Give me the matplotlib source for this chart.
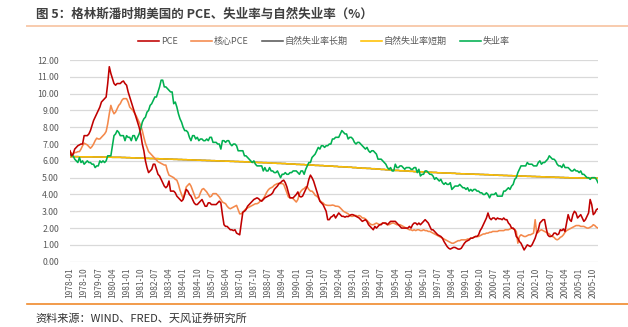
import matplotlib
matplotlib.use('Agg')
import matplotlib.pyplot as plt
import numpy as np
import pandas as pd

plt.rcParams['font.family'] = ['Noto Sans CJK SC', 'DejaVu Sans']

# monthly, 1978-01 .. 2006-01
months = pd.period_range('1978-01', '2006-01', freq='M').strftime('%Y-%m').tolist()

pce = [
    6.6, 6.3, 6.4, 6.7, 6.8, 6.9, 6.95, 7.0, 7.0, 7.5, 7.5, 7.5,          # 1978
    7.6, 7.8, 8.1, 8.4, 8.6, 8.8, 9.0, 9.2, 9.5, 9.6, 9.7, 9.8,           # 1979
    10.6, 11.6, 11.2, 10.9, 10.6, 10.5, 10.6, 10.6, 10.6, 10.7, 10.75, 10.6,  # 1980
    10.5, 10.1, 9.8, 9.5, 9.2, 8.9, 8.6, 8.3, 8.0, 7.6, 7.0, 6.6,         # 1981
    6.0, 5.6, 5.3, 5.4, 5.5, 5.8, 5.8, 5.5, 5.2, 5.1, 4.9, 4.7,           # 1982
    4.5, 4.4, 4.5, 4.8, 4.2, 4.2, 4.2, 4.1, 3.9, 3.8, 3.7, 3.6,           # 1983
    3.7, 4.0, 4.3, 4.2, 4.0, 3.9, 3.7, 3.5, 3.4, 3.4, 3.5, 3.6,           # 1984
    3.7, 3.5, 3.3, 3.3, 3.5, 3.5, 3.4, 3.4, 3.4, 3.4, 3.5, 3.6,           # 1985
    3.5, 2.8, 2.2, 2.1, 2.1, 2.0, 1.9, 1.9, 1.85, 1.9, 1.7, 1.65,         # 1986
    1.6, 2.3, 2.95, 3.0, 3.1, 3.3, 3.4, 3.5, 3.6, 3.7, 3.75, 3.8,         # 1987
    3.75, 3.65, 3.6, 3.7, 3.8, 3.85, 3.9, 3.95, 4.0, 4.1, 4.3, 4.4,       # 1988
    4.5, 4.65, 4.7, 4.8, 4.85, 4.7, 4.45, 4.1, 3.8, 3.8, 3.8, 3.9,        # 1989
    4.0, 4.15, 3.9, 3.85, 3.9, 4.1, 4.3, 4.5, 4.9, 5.15, 5.0, 4.8,        # 1990
    4.5, 4.2, 3.9, 3.6, 3.5, 3.4, 3.2, 3.0, 2.5, 2.5, 2.65, 2.7,          # 1991
    2.8, 2.6, 2.75, 2.9, 2.8, 2.7, 2.7, 2.65, 2.7, 2.68, 2.75, 2.8,       # 1992
    2.8, 2.75, 2.7, 2.65, 2.6, 2.5, 2.4, 2.45, 2.5, 2.4, 2.2, 2.1,        # 1993
    2.0, 1.9, 2.1, 2.0, 2.1, 2.2, 2.2, 2.3, 2.3, 2.3, 2.2, 2.3,           # 1994
    2.4, 2.4, 2.4, 2.4, 2.3, 2.2, 2.1, 2.0, 2.0, 2.0, 2.0, 2.0,           # 1995
    2.1, 2.0, 2.2, 2.3, 2.3, 2.2, 2.3, 2.2, 2.3, 2.4, 2.5, 2.4,           # 1996
    2.3, 2.1, 1.9, 1.9, 1.8, 1.7, 1.6, 1.55, 1.5, 1.4, 1.2, 1.05,         # 1997
    0.9, 0.8, 0.75, 0.8, 0.85, 0.85, 0.8, 0.75, 0.75, 0.8, 0.95, 1.1,     # 1998
    1.2, 1.25, 1.3, 1.4, 1.4, 1.45, 1.5, 1.5, 1.6, 1.85, 2.0, 2.2,        # 1999
    2.4, 2.6, 2.9, 2.6, 2.5, 2.6, 2.6, 2.5, 2.6, 2.55, 2.55, 2.5,         # 2000
    2.6, 2.5, 2.5, 2.3, 2.2, 2.0, 2.0, 1.9, 1.5, 1.4, 1.2, 1.1,           # 2001
    0.9, 0.7, 0.85, 1.0, 0.95, 0.9, 1.0, 1.2, 1.4, 1.7, 1.9, 2.3,         # 2002
    2.4, 2.5, 2.5, 2.0, 1.6, 1.5, 1.5, 1.55, 1.7, 1.7, 1.6, 1.65,         # 2003
    1.9, 1.85, 1.95, 1.8, 2.3, 2.8, 2.5, 2.4, 2.8, 3.0, 2.9, 2.6,         # 2004
    2.7, 2.8, 2.6, 2.4, 2.5, 2.7, 2.9, 3.7, 3.4, 2.8, 2.9, 3.1,           # 2005
    3.15,                                                                 # 2006-01
]

core_pce = [
    6.55, 6.45, 6.4, 6.5, 6.5, 6.55, 6.55, 6.7, 6.9, 7.05, 7.0, 6.95,     # 1978
    6.85, 6.75, 6.85, 7.0, 7.2, 7.35, 7.3, 7.3, 7.4, 7.5, 7.6, 7.75,      # 1979
    8.2, 8.8, 9.3, 9.0, 8.8, 8.9, 9.1, 9.3, 9.4, 9.6, 9.7, 9.7,           # 1980
    9.7, 9.5, 9.2, 9.1, 9.0, 8.85, 8.7, 8.5, 8.3, 8.1, 7.8, 7.4,          # 1981
    7.05, 6.8, 6.55, 6.45, 6.35, 6.25, 6.15, 6.05, 5.95, 5.9, 5.85, 5.8,  # 1982
    5.75, 5.75, 5.4, 5.15, 5.1, 5.05, 5.0, 4.9, 4.85, 4.6, 4.25, 4.0,     # 1983
    3.75, 4.1, 4.45, 4.55, 4.65, 4.5, 4.25, 4.0, 3.75, 3.8, 3.85, 4.1,    # 1984
    4.3, 4.35, 4.25, 4.15, 4.0, 3.85, 3.9, 4.05, 4.05, 4.05, 3.95, 3.85,  # 1985
    3.7, 3.55, 3.5, 3.45, 3.3, 3.2, 3.15, 3.2, 3.25, 3.3, 3.35, 3.1,      # 1986
    2.85, 2.85, 2.95, 3.05, 3.15, 3.2, 3.25, 3.3, 3.35, 3.4, 3.45, 3.45,  # 1987
    3.5, 3.6, 3.65, 3.75, 3.9, 4.1, 4.25, 4.35, 4.4, 4.45, 4.55, 4.6,     # 1988
    4.65, 4.65, 4.65, 4.65, 4.6, 4.35, 4.1, 3.85, 3.8, 3.8, 3.75, 3.65,   # 1989
    3.55, 3.7, 4.05, 4.2, 4.3, 4.35, 4.45, 4.45, 4.3, 4.2, 4.2, 4.1,      # 1990
    3.95, 3.9, 3.8, 3.65, 3.55, 3.5, 3.4, 3.37, 3.35, 3.35, 3.35, 3.37,   # 1991
    3.35, 3.3, 3.3, 3.28, 3.2, 3.1, 3.0, 2.95, 2.9, 2.85, 2.75, 2.7,      # 1992
    2.7, 2.75, 2.75, 2.7, 2.75, 2.7, 2.6, 2.6, 2.55, 2.45, 2.35, 2.25,    # 1993
    2.2, 2.2, 2.25, 2.3, 2.25, 2.2, 2.25, 2.3, 2.3, 2.25, 2.2, 2.2,       # 1994
    2.25, 2.3, 2.3, 2.25, 2.2, 2.2, 2.2, 2.15, 2.1, 2.05, 2.0, 1.95,      # 1995
    1.9, 1.9, 1.85, 1.9, 1.85, 1.9, 1.9, 1.85, 1.85, 1.9, 1.85, 1.85,     # 1996
    1.8, 1.8, 1.75, 1.7, 1.65, 1.6, 1.55, 1.5, 1.45, 1.4, 1.35, 1.3,      # 1997
    1.25, 1.2, 1.15, 1.1, 1.1, 1.15, 1.2, 1.25, 1.25, 1.3, 1.3, 1.3,      # 1998
    1.3, 1.35, 1.35, 1.4, 1.4, 1.45, 1.5, 1.5, 1.5, 1.55, 1.6, 1.65,      # 1999
    1.65, 1.7, 1.7, 1.75, 1.75, 1.8, 1.8, 1.8, 1.8, 1.85, 1.85, 1.85,     # 2000
    1.85, 1.9, 1.9, 1.9, 1.95, 2.0, 1.95, 1.9, 1.8, 1.1, 1.5, 1.6,        # 2001
    1.55, 1.5, 1.5, 1.55, 1.6, 1.6, 1.65, 1.7, 2.5, 1.7, 1.75, 1.85,      # 2002
    1.9, 1.85, 1.8, 1.75, 1.7, 1.65, 1.55, 1.5, 1.45, 1.35, 1.3, 1.35,    # 2003
    1.45, 1.5, 1.6, 1.75, 1.85, 1.9, 1.95, 2.0, 2.05, 2.1, 2.15, 2.15,    # 2004
    2.15, 2.1, 2.1, 2.1, 2.05, 2.0, 2.0, 2.05, 2.1, 2.2, 2.15, 2.05,      # 2005
    2.0,                                                                  # 2006-01
]

unemployment = [
    6.4, 6.3, 6.3, 6.1, 6.0, 5.9, 6.2, 5.9, 6.0, 5.8, 5.9, 6.0,          # 1978
    5.9, 5.9, 5.8, 5.8, 5.6, 5.7, 5.7, 6.0, 5.9, 6.0, 5.9, 6.0,          # 1979
    6.3, 6.3, 6.3, 6.9, 7.5, 7.6, 7.8, 7.7, 7.5, 7.5, 7.5, 7.2,          # 1980
    7.5, 7.4, 7.4, 7.2, 7.5, 7.5, 7.2, 7.4, 7.6, 7.9, 8.3, 8.5,          # 1981
    8.6, 8.9, 9.0, 9.3, 9.4, 9.6, 9.8, 9.8, 10.1, 10.4, 10.8, 10.8,      # 1982
    10.4, 10.4, 10.3, 10.2, 10.1, 10.1, 9.4, 9.5, 9.2, 8.8, 8.5, 8.3,    # 1983
    8.0, 7.8, 7.8, 7.7, 7.4, 7.2, 7.5, 7.5, 7.3, 7.4, 7.2, 7.3,          # 1984
    7.3, 7.2, 7.2, 7.3, 7.2, 7.4, 7.4, 7.1, 7.1, 7.1, 7.0, 7.0,          # 1985
    6.7, 7.2, 7.2, 7.1, 7.2, 7.2, 7.0, 6.9, 7.0, 7.0, 6.9, 6.6,          # 1986
    6.6, 6.6, 6.6, 6.3, 6.3, 6.2, 6.1, 6.0, 5.9, 6.0, 5.8, 5.7,          # 1987
    5.7, 5.7, 5.7, 5.4, 5.6, 5.4, 5.4, 5.6, 5.4, 5.4, 5.3, 5.3,          # 1988
    5.4, 5.2, 5.0, 5.2, 5.2, 5.3, 5.2, 5.2, 5.3, 5.3, 5.4, 5.4,          # 1989
    5.4, 5.3, 5.2, 5.4, 5.4, 5.2, 5.5, 5.7, 5.9, 5.9, 6.2, 6.3,          # 1990
    6.4, 6.6, 6.8, 6.7, 6.9, 6.9, 6.8, 6.9, 6.9, 7.0, 7.0, 7.3,          # 1991
    7.3, 7.4, 7.4, 7.4, 7.6, 7.8, 7.7, 7.6, 7.6, 7.3, 7.4, 7.4,          # 1992
    7.3, 7.1, 7.0, 7.1, 7.1, 7.0, 6.9, 6.8, 6.7, 6.8, 6.6, 6.5,          # 1993
    6.6, 6.6, 6.5, 6.4, 6.1, 6.1, 6.1, 6.0, 5.9, 5.8, 5.6, 5.5,          # 1994
    5.6, 5.4, 5.4, 5.8, 5.6, 5.6, 5.7, 5.7, 5.6, 5.5, 5.6, 5.6,          # 1995
    5.6, 5.5, 5.5, 5.6, 5.6, 5.3, 5.5, 5.1, 5.2, 5.2, 5.4, 5.4,          # 1996
    5.3, 5.2, 5.2, 5.1, 4.9, 5.0, 4.9, 4.8, 4.9, 4.7, 4.6, 4.7,          # 1997
    4.6, 4.6, 4.7, 4.3, 4.4, 4.5, 4.5, 4.5, 4.6, 4.5, 4.4, 4.4,          # 1998
    4.3, 4.4, 4.2, 4.3, 4.2, 4.3, 4.3, 4.2, 4.2, 4.1, 4.1, 4.0,          # 1999
    4.0, 4.1, 4.0, 3.8, 4.0, 4.0, 4.0, 4.1, 3.9, 3.9, 3.9, 3.9,          # 2000
    4.2, 4.2, 4.3, 4.4, 4.3, 4.5, 4.6, 4.9, 5.0, 5.3, 5.5, 5.7,          # 2001
    5.7, 5.7, 5.7, 5.9, 5.8, 5.8, 5.8, 5.7, 5.7, 5.7, 5.9, 6.0,          # 2002
    5.8, 5.9, 5.9, 6.0, 6.1, 6.3, 6.2, 6.1, 6.1, 6.0, 5.8, 5.7,          # 2003
    5.7, 5.6, 5.8, 5.6, 5.6, 5.6, 5.5, 5.4, 5.4, 5.5, 5.4, 5.4,          # 2004
    5.3, 5.4, 5.2, 5.2, 5.1, 5.0, 5.0, 4.9, 5.0, 5.0, 5.0, 4.9,          # 2005
    4.7,                                                                 # 2006-01
]

# natural rate, quarterly 1978Q1 .. 2006Q1 (flat within the quarter)
nat_long = [
    6.25, 6.25, 6.24, 6.24, 6.24, 6.23, 6.23, 6.22, 6.22, 6.21, 6.21, 6.20,
    6.19, 6.18, 6.17, 6.16, 6.15, 6.14, 6.13, 6.12, 6.11, 6.10, 6.09, 6.08,
    6.07, 6.06, 6.05, 6.04, 6.03, 6.02, 6.01, 6.00, 5.99, 5.98, 5.97, 5.96,
    5.95, 5.94, 5.93, 5.91, 5.90, 5.89, 5.88, 5.86, 5.85, 5.84, 5.82, 5.81,
    5.79, 5.78, 5.76, 5.75, 5.73, 5.72, 5.70, 5.69, 5.67, 5.65, 5.64, 5.62,
    5.60, 5.58, 5.56, 5.55, 5.53, 5.51, 5.49, 5.47, 5.45, 5.43, 5.41, 5.40,
    5.38, 5.36, 5.35, 5.33, 5.32, 5.31, 5.29, 5.28, 5.27, 5.26, 5.24, 5.23,
    5.22, 5.21, 5.20, 5.19, 5.18, 5.17, 5.15, 5.14, 5.13, 5.12, 5.11, 5.10,
    5.09, 5.08, 5.07, 5.06, 5.05, 5.04, 5.03, 5.02, 5.01, 5.00, 4.99, 4.99,
    4.98, 4.98, 4.97, 4.97, 4.96,
]
nat_short = list(nat_long)  # the two estimates coincide over this period

title = '图 5：格林斯潘时期美国的 PCE、失业率与自然失业率（%）'
source = '资料来源：WIND、FRED、天风证券研究所'

# --------------------------------------------------------------
df = pd.DataFrame({'month': months, 'pce': pce, 'core': core_pce, 'unemp': unemployment})
quarter = np.arange(len(df)) // 3
df['nat_long'] = np.array(nat_long)[quarter]
df['nat_short'] = np.array(nat_short)[quarter]
x = np.arange(len(df))

fig = plt.figure(figsize=(6.28, 3.27), dpi=100)
ax = fig.add_axes([70 / 628, 1 - 261.7 / 327, 528 / 628, 201.7 / 327])

lw = 1.15
ax.plot(x, df['pce'], color='#C00000', lw=lw, label='PCE', zorder=5)
ax.plot(x, df['core'], color='#F4894B', lw=lw, label='核心PCE', zorder=4)
ax.plot(x, df['nat_long'], color='#595959', lw=lw, label='自然失业率长期', zorder=2)
ax.plot(x, df['nat_short'], color='#FFC000', lw=lw, label='自然失业率短期', zorder=3)
ax.plot(x, df['unemp'], color='#00B050', lw=lw, label='失业率', zorder=4)

ax.set_xlim(0, len(df) - 1)
ax.set_ylim(0, 12)
ax.set_yticks(np.arange(0, 13, 1))
ax.set_yticklabels(['%.2f' % v for v in np.arange(0, 13, 1)])
ticks = x[::9]
ax.set_xticks(ticks)
ax.set_xticklabels([months[i] for i in ticks], rotation=90)
ax.tick_params(axis='y', length=0, pad=8, labelsize=6.3, labelcolor='#595959')
ax.tick_params(axis='x', length=0, pad=4, labelsize=6.0, labelcolor='#595959')
ax.grid(axis='y', color='#D9D9D9', lw=0.9)
ax.set_axisbelow(True)
for s in ax.spines.values():
    s.set_visible(False)

fig.legend(loc='center', bbox_to_anchor=(324 / 628, 1 - 41.5 / 327), ncol=5,
           frameon=False, fontsize=6.5, labelcolor='#595959',
           handlelength=2.3, handletextpad=0.2, columnspacing=1.5)

fig.text(36 / 628, 1 - 14 / 327, title, fontsize=9, color='#404040',
         fontweight='bold', va='center', ha='left')
fig.add_artist(plt.Line2D([27 / 628, 1.0], [1 - 26 / 327] * 2, color='#F8CBAD', lw=1.4))
fig.add_artist(plt.Line2D([27 / 628, 1.0], [1 - 304 / 327] * 2, color='#F08A2C', lw=1.2))
fig.text(35 / 628, 1 - 318 / 327, source, fontsize=8, color='#333333',
         va='center', ha='left')

fig.savefig('out.png', dpi=100)
